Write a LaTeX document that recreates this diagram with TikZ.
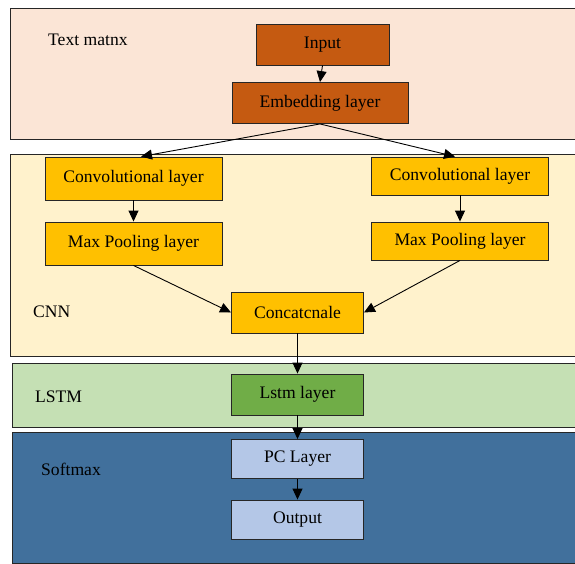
\documentclass[tikz,border=0pt]{standalone}
\usepackage{fontspec}
\setmainfont{Liberation Serif}
\usetikzlibrary{arrows.meta}
\definecolor{pPeach}{HTML}{FBE5D6}
\definecolor{pBrown}{HTML}{C55A11}
\definecolor{pCream}{HTML}{FFF2CC}
\definecolor{pGold}{HTML}{FFC000}
\definecolor{pMint}{HTML}{C5E0B4}
\definecolor{pGreen}{HTML}{70AD47}
\definecolor{pBlue}{HTML}{41709C}
\definecolor{pLight}{HTML}{B4C7E7}
\definecolor{pEdge}{HTML}{262626}
\tikzset{
  x=1pt, y=-1pt,
  panel/.style={draw=pEdge, line width=0.9pt},
  box/.style={draw=pEdge, line width=0.9pt, inner sep=0pt, align=center,
    font=\fontsize{17.6}{20}\selectfont},
  lbl/.style={anchor=west, inner sep=0pt, font=\fontsize{17.6}{20}\selectfont},
  arr/.style={line width=0.9pt, -{Triangle[length=11pt,width=10pt]}},
}
\begin{document}
\begin{tikzpicture}
\useasboundingbox (0,0) rectangle (575,564);
\clip (0,0) rectangle (575,564);
\fill[white] (0,0) rectangle (575,564);
% panels
\draw[panel, fill=pPeach] (10,8) rectangle (590,139);
\draw[panel, fill=pCream] (10,154) rectangle (590,356);
\draw[panel, fill=pMint] (12,363) rectangle (590,427);
\draw[panel, fill=pBlue] (12,432) rectangle (590,563);
% panel labels
\node[lbl] (tText) at (48,40) {Text matnx};
\node[lbl] (tCNN) at (33,312) {CNN};
\node[lbl] (tLSTM) at (35,397) {LSTM};
\node[lbl] (tSoft) at (41,469) {Softmax};
% boxes
\node[box, fill=pBrown, minimum width=133pt, minimum height=41pt] (input) at (322.5,44.5) {Input};
\node[box, fill=pBrown, minimum width=176pt, minimum height=41pt] (embed) at (320,103) {Embedding layer};
\node[box, fill=pGold, minimum width=177pt, minimum height=43pt] (convL) at (133.5,178.5) {Convolutional layer};
\node[box, fill=pGold, minimum width=177pt, minimum height=38pt] (convR) at (460,176) {Convolutional layer};
\node[box, fill=pGold, minimum width=177pt, minimum height=43pt] (poolL) at (133.5,243.5) {Max Pooling layer};
\node[box, fill=pGold, minimum width=177pt, minimum height=38pt] (poolR) at (460,241) {Max Pooling layer};
\node[box, fill=pGold, minimum width=132pt, minimum height=41pt] (concat) at (297.5,312.5) {Concatcnale};
\node[box, fill=pGreen, minimum width=132pt, minimum height=41pt] (lstm) at (297.5,394.5) {Lstm layer};
\node[box, fill=pLight, minimum width=132pt, minimum height=39pt] (pc) at (297.5,459) {PC Layer};
\node[box, fill=pLight, minimum width=132pt, minimum height=39pt] (out) at (297.5,519.5) {Output};
% connectors
\draw[arr] (input.south) -- (embed.north);
\draw[arr] (embed.south) -- ([xshift=7.5pt]convL.north);
\draw[arr] (embed.south) -- ([xshift=-5pt]convR.north);
\draw[arr] (convL.south) -- (poolL.north);
\draw[arr] (convR.south) -- (poolR.north);
\draw[arr] (poolL.south) -- (concat.west);
\draw[arr] (poolR.south) -- (concat.east);
\draw[arr] (concat.south) -- (lstm.north);
\draw[arr] (lstm.south) -- (pc.north);
\draw[arr] (pc.south) -- (out.north);
\end{tikzpicture}
\end{document}
